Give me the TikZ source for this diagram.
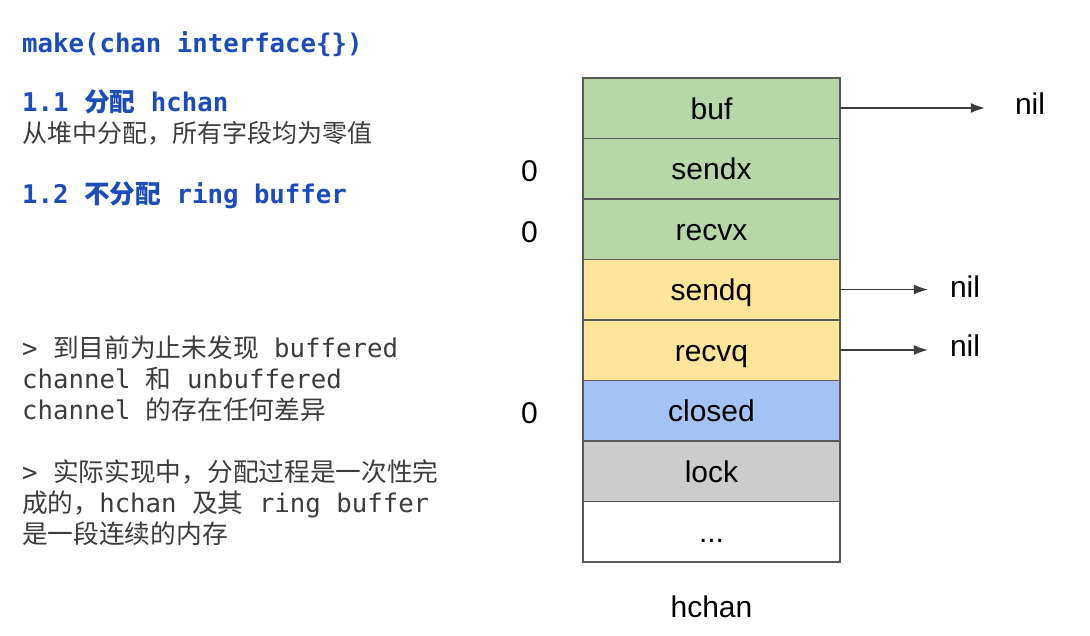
\documentclass[tikz,border=0pt]{standalone}
\usepackage{fontspec}
\setmainfont{Liberation Sans}
\newfontfamily\monofont{DejaVu Sans Mono}
\newfontfamily\cjk{Noto Sans CJK SC}
\usetikzlibrary{positioning,arrows.meta}

\definecolor{headblue}{RGB}{28,76,184}
\definecolor{notegray}{RGB}{60,60,60}
\definecolor{cellgreen}{RGB}{182,215,168}
\definecolor{cellyellow}{RGB}{255,229,153}
\definecolor{cellblue}{RGB}{164,194,244}
\definecolor{cellgray}{RGB}{204,204,204}
\definecolor{cellline}{RGB}{90,90,90}
\definecolor{arrowgray}{RGB}{60,60,60}

\newcommand{\cn}[1]{{\cjk #1}}

\tikzset{
  field/.style={draw=cellline, line width=1.5pt, minimum width=257pt, minimum height=60.5pt,
    inner sep=0pt, outer sep=0pt, text height=24pt, text depth=2pt, font=\fontsize{30}{34}\selectfont},
  head/.style={anchor=base west, inner sep=0pt, text=headblue, font=\monofont\bfseries\fontsize{25.7}{31}\selectfont},
  note/.style={anchor=base west, inner sep=0pt, text=notegray, font=\monofont\fontsize{25.7}{31}\selectfont},
  plain/.style={anchor=base west, inner sep=0pt, text=notegray, font=\cjk\fontsize{25}{31}\selectfont},
  ptr/.style={-{Latex[length=14pt,width=10pt]}, draw=arrowgray, line width=1.2pt},
  lbl/.style={inner sep=0pt, font=\fontsize{30}{34}\selectfont}
}

\begin{document}
\begin{tikzpicture}[x=1pt,y=-1pt]
  \useasboundingbox (0,0) rectangle (1090,635);

  % left column text
  \node[head] (title) at (22,52) {make(chan interface\{\})};
  \node[head] (stepone) at (22,111) {1.1 \cn{分配} hchan};
  \node[plain] (steponetxt) at (22,142) {从堆中分配，所有字段均为零值};
  \node[head] (steptwo) at (22,203) {1.2 \cn{不分配} ring buffer};

  \node[note] (noteaa) at (22,357) {> \cn{到目前为止未发现} buffered};
  \node[note] (noteab) at (22,388) {channel \cn{和} unbuffered};
  \node[note] (noteac) at (22,419) {channel \cn{的存在任何差异}};

  \node[note] (noteba) at (22,481) {> \cn{实际实现中，分配过程是一次性完}};
  \node[note] (notebb) at (22,512) {\cn{成的，}hchan \cn{及其} ring buffer};
  \node[note] (notebc) at (22,543) {\cn{是一段连续的内存}};

  % hchan fields
  \node[field, fill=cellgreen] (buf) at (711.5,108) {buf};
  \node[field, fill=cellgreen, below=0pt of buf] (sendx) {sendx};
  \node[field, fill=cellgreen, below=0pt of sendx] (recvx) {recvx};
  \node[field, fill=cellyellow, below=0pt of recvx] (sendq) {sendq};
  \node[field, fill=cellyellow, below=0pt of sendq] (recvq) {recvq};
  \node[field, fill=cellblue, below=0pt of recvq] (closed) {closed};
  \node[field, fill=cellgray, below=0pt of closed] (lock) {lock};
  \node[field, fill=white, below=0pt of lock] (rest) {...};
  \node[lbl, below=34pt of rest] (hchan) {hchan};

  % zero values
  \node[lbl, left=45pt of sendx, yshift=-3pt] (zsendx) {0};
  \node[lbl, left=45pt of recvx, yshift=-3pt] (zrecvx) {0};
  \node[lbl, left=45pt of closed, yshift=-3pt] (zclosed) {0};

  % pointers
  \node[lbl] (nilbuf) at (1030,104) {nil};
  \node[lbl] (nilsendq) at (965,287) {nil};
  \node[lbl] (nilrecvq) at (965,346) {nil};
  \draw[ptr] (buf.east) -- ([xshift=-30pt]buf.east -| nilbuf.west);
  \draw[ptr] (sendq.east) -- ([xshift=-22pt]sendq.east -| nilsendq.west);
  \draw[ptr] (recvq.east) -- ([xshift=-22pt]recvq.east -| nilrecvq.west);
\end{tikzpicture}
\end{document}
